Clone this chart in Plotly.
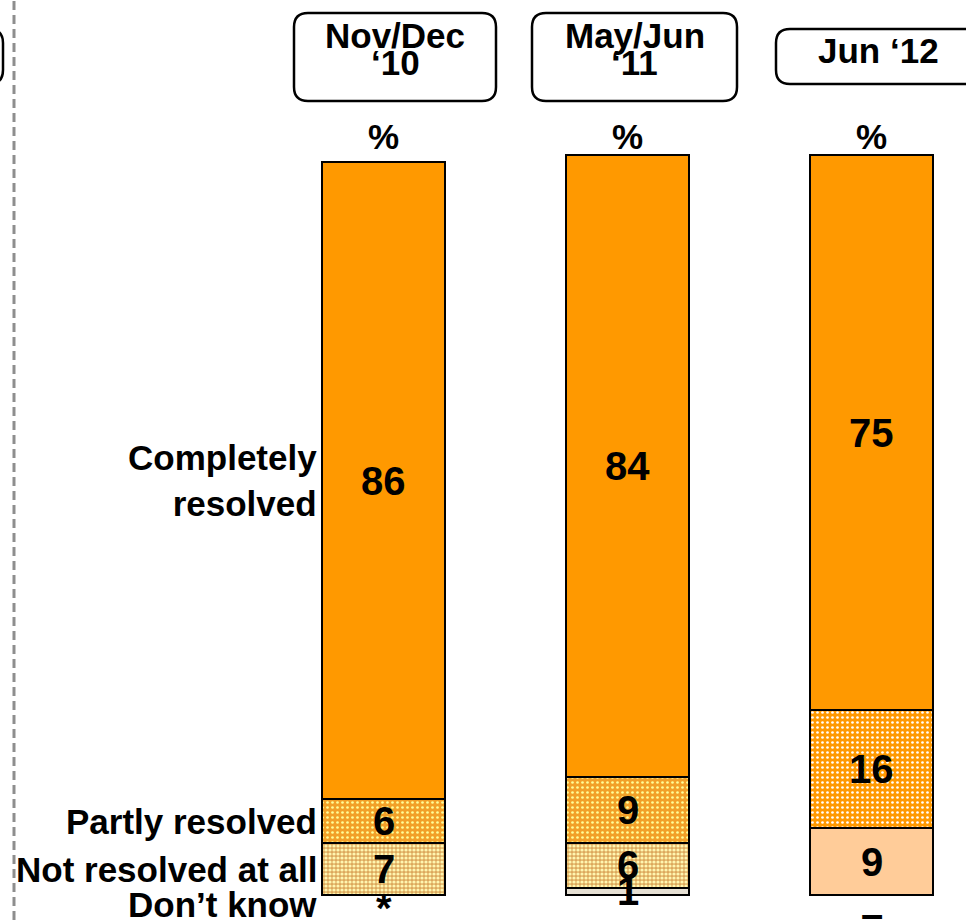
import plotly.graph_objects as go

# Survey waves and the share of complaints in each outcome (%)
periods = ["Nov/Dec ‘10", "May/Jun ‘11", "Jun ‘12"]
header_lines = [["Nov/Dec", "‘10"], ["May/Jun", "‘11"], ["Jun ‘12"]]
completely = [86, 84, 75]
partly = [6, 9, 16]
not_at_all = [7, 6, 9]
dont_know = [0, 1, 0]
dont_know_labels = ["*", "1", "–"]
category_labels = ["Completely<br>resolved", "Partly resolved", "Not resolved at all", "Don’t know"]

W, H = 966, 920
FONT = "Liberation Sans, Arial, sans-serif"


def px_x(p):
    return p / W


def px_y(p):
    return 1 - p / H


# fill style per series and per wave: (colour, pattern shape, dot colour, dot spacing, dot share)
styles = {
    "dont_know": [("#E6E0D4", "", None, 5, 0.3)] * 3,
    "not_at_all": [("#DDA85C", ".", "#FFF6B0", 4, 0.5),
                   ("#DDA85C", ".", "#FFF6B0", 4, 0.5),
                   ("#FFCC99", "", None, 5, 0.3)],
    "partly": [("#F2A028", ".", "#FFFF99", 5, 0.22),
               ("#F2A028", ".", "#FFFF99", 5, 0.22),
               ("#FF9900", ".", "#FFFFFF", 5, 0.22)],
    "completely": [("#FF9900", "", None, 5, 0.3)] * 3,
}
series = [("dont_know", "Don’t know", dont_know), ("not_at_all", "Not resolved at all", not_at_all),
          ("partly", "Partly resolved", partly), ("completely", "Completely resolved", completely)]

px_per_cat = 244
c0 = 383.5
bar_w = 123 / px_per_cat

fig = go.Figure()
line = dict(color="black", width=2)

# stacked from the bottom up, one trace per wave so each fill can differ
for key, name, vals in series:
    for i, p in enumerate(periods):
        col, shape, dot, size, sol = styles[key][i]
        marker = dict(color=col, line=line)
        if shape:
            marker["pattern"] = dict(shape=shape, fgcolor=dot, bgcolor=col, size=size,
                                     solidity=sol, fillmode="replace")
        fig.add_trace(go.Bar(x=[p], y=[vals[i]], name=name, marker=marker, width=bar_w))

annotations = []
value_font = dict(family=FONT, size=40, color="black", weight="bold")
label_font = dict(family=FONT, size=35, color="black", weight="bold")
zero_shift = {"*": -13, "–": -19}

# value labels centred in each segment
for i, p in enumerate(periods):
    segs = [dont_know[i], not_at_all[i], partly[i], completely[i]]
    texts = [dont_know_labels[i], str(not_at_all[i]), str(partly[i]), str(completely[i])]
    base = 0
    for v, t in zip(segs, texts):
        if v == 0:
            annotations.append(dict(x=p, y=0, xref="x", yref="y", text=t, showarrow=False,
                                    yanchor="middle", yshift=zero_shift.get(t, -16),
                                    font=value_font))
        else:
            annotations.append(dict(x=p, y=base + v / 2, xref="x", yref="y", text=t,
                                    showarrow=False, yanchor="middle", font=value_font))
        base += v

    # "%" above each bar
    annotations.append(dict(x=p, y=px_y(137), xref="x", yref="paper", text="%",
                            showarrow=False, yanchor="middle", font=label_font))

# row labels aligned with the first bar's segments
first = [dont_know[0], not_at_all[0], partly[0], completely[0]]
mids = []
acc = 0
for v in first:
    mids.append(acc + v / 2)
    acc += v
row_y = [mids[3], mids[2], mids[1], -1.3]
for lab, yv in zip(category_labels, row_y):
    annotations.append(dict(x=px_x(319), y=yv, xref="paper", yref="y", text=lab,
                            showarrow=False, xanchor="right", yanchor="middle",
                            align="right", font=label_font))

# header boxes
shapes = []


def rounded_box(x0, y0, x1, y1, r=14):
    rx, ry = r / W, r / H
    X0, X1, Y0, Y1 = px_x(x0), px_x(x1), px_y(y0), px_y(y1)
    path = (f"M {X0+rx},{Y0} L {X1-rx},{Y0} Q {X1},{Y0} {X1},{Y0-ry} "
            f"L {X1},{Y1+ry} Q {X1},{Y1} {X1-rx},{Y1} L {X0+rx},{Y1} "
            f"Q {X0},{Y1} {X0},{Y1+ry} L {X0},{Y0-ry} Q {X0},{Y0} {X0+rx},{Y0} Z")
    return dict(type="path", path=path, xref="paper", yref="paper",
                line=dict(color="black", width=2.5), fillcolor="white", layer="below")


boxes = [(294, 13, 496, 101), (532, 13, 737, 101), (776, 29, 1000, 84)]
centres = [395, 634.5, 878]
for (bx0, by0, bx1, by1), cx, lines in zip(boxes, centres, header_lines):
    shapes.append(rounded_box(bx0, by0, bx1, by1))
    ys = [35, 63] if len(lines) == 2 else [51]
    for t, yy in zip(lines, ys):
        annotations.append(dict(x=px_x(cx), y=px_y(yy), xref="paper", yref="paper", text=t,
                                showarrow=False, xanchor="center", yanchor="middle",
                                font=label_font))

# box cut off at the left edge
shapes.append(rounded_box(-200, 29, 3, 84))

# dashed divider
shapes.append(dict(type="line", xref="paper", yref="paper", x0=px_x(14), x1=px_x(14),
                   y0=0, y1=1, line=dict(color="#8E8E8E", width=3, dash="9px,5px")))

fig.update_layout(
    width=W, height=H,
    margin=dict(l=0, r=0, t=0, b=0),
    barmode="stack",
    showlegend=False,
    paper_bgcolor="white", plot_bgcolor="white",
    xaxis=dict(visible=False, type="category", categoryorder="array", categoryarray=periods,
               range=[-c0 / px_per_cat, (W - c0) / px_per_cat], fixedrange=True),
    yaxis=dict(visible=False, range=[-(H - 895) / 7.4, 895 / 7.4], fixedrange=True),
    annotations=annotations, shapes=shapes,
)

fig.write_html("out.html")
